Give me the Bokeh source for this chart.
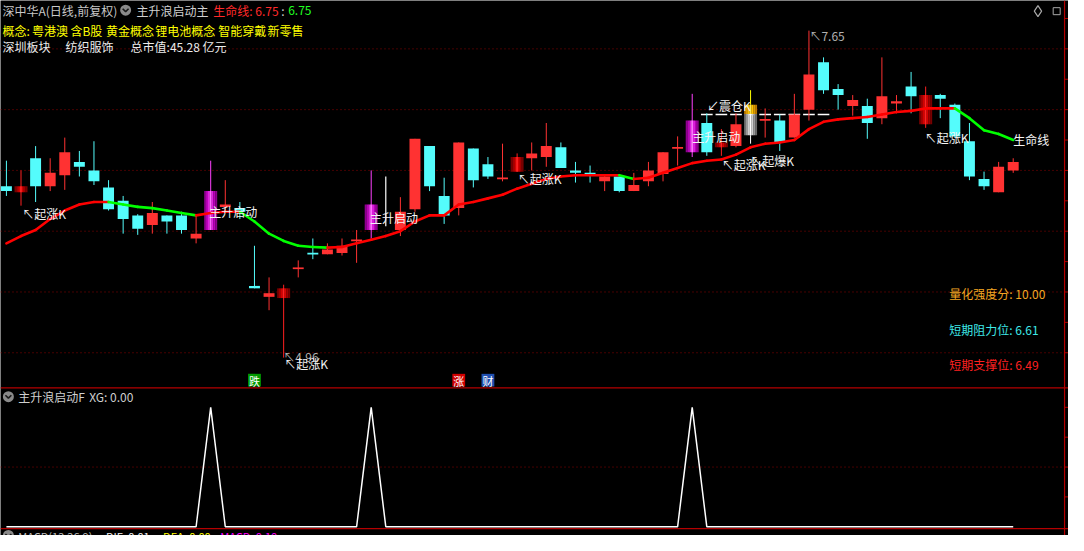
from bokeh.plotting import figure
from bokeh.models import Range1d
from bokeh.core.properties import value
from bokeh.embed import file_html
from bokeh.resources import INLINE

# ---------------- data ----------------
OPEN = [6.37, 6.32, 6.60, 6.37, 6.46, 6.57, 6.50, 6.36, 6.25, 6.13,
        6.05, 6.13, 6.13, 5.94, 6.01, 6.20, 6.19, 5.55, 5.46, 5.45,
        5.69, 5.82, 5.81, 5.82, 5.92, 6.01, 6.11, 6.01, 6.18, 6.70,
        6.29, 6.19, 6.68, 6.55, 6.43, 6.49, 6.60, 6.61, 6.69, 6.50,
        6.48, 6.41, 6.45, 6.33, 6.41, 6.47, 6.68, 6.65, 6.89, 6.69,
        6.70, 7.04, 6.91, 6.91, 6.77, 7.00, 7.39, 7.17, 7.03, 7.03,
        6.93, 7.05, 7.19, 6.88, 7.12, 7.04, 6.74, 6.43, 6.32, 6.50]
HIGH = [6.58, 6.50, 6.70, 6.60, 6.77, 6.66, 6.74, 6.42, 6.29, 6.14,
        6.24, 6.13, 6.16, 6.13, 6.58, 6.42, 6.24, 5.88, 5.62, 5.56,
        5.76, 5.94, 5.90, 5.94, 6.01, 6.50, 6.45, 6.28, 6.76, 6.70,
        6.44, 6.73, 6.68, 6.61, 6.72, 6.64, 6.73, 6.89, 6.73, 6.57,
        6.54, 6.46, 6.45, 6.48, 6.57, 6.65, 6.78, 7.13, 6.97, 6.84,
        6.97, 7.16, 7.01, 6.96, 7.13, 7.65, 7.43, 7.21, 7.12, 7.09,
        7.43, 7.12, 7.31, 7.19, 7.13, 7.05, 6.89, 6.49, 6.57, 6.60]
LOW = [6.29, 6.21, 6.24, 6.33, 6.34, 6.45, 6.38, 6.17, 5.98, 5.97,
       5.98, 5.98, 5.98, 5.90, 6.01, 6.16, 6.10, 5.53, 5.35, 4.96,
       5.62, 5.77, 5.81, 5.80, 5.74, 5.94, 6.04, 5.96, 6.16, 6.33,
       6.06, 6.13, 6.36, 6.43, 6.41, 6.49, 6.50, 6.53, 6.52, 6.40,
       6.40, 6.33, 6.32, 6.33, 6.37, 6.41, 6.54, 6.61, 6.62, 6.62,
       6.69, 6.72, 6.77, 6.66, 6.77, 6.91, 7.13, 7.00, 6.95, 6.76,
       6.88, 6.97, 6.97, 6.85, 6.93, 6.77, 6.42, 6.34, 6.32, 6.48]
CLOSE = [6.33, 6.37, 6.37, 6.48, 6.65, 6.53, 6.41, 6.18, 6.10, 6.02,
         6.15, 6.08, 6.01, 5.98, 6.33, 6.22, 6.16, 5.53, 5.49, 5.53,
         5.70, 5.81, 5.85, 5.88, 5.93, 6.22, 6.11, 6.16, 6.76, 6.37,
         6.13, 6.73, 6.42, 6.45, 6.44, 6.61, 6.64, 6.70, 6.52, 6.48,
         6.46, 6.45, 6.33, 6.38, 6.50, 6.65, 6.69, 6.91, 6.65, 6.73,
         6.88, 6.79, 6.92, 6.73, 6.96, 7.29, 7.16, 7.12, 7.08, 6.89,
         7.11, 7.07, 7.11, 7.12, 7.09, 6.78, 6.45, 6.37, 6.53, 6.57]
LIFE = [5.90, 5.96, 6.01, 6.10, 6.17, 6.22, 6.24, 6.24, 6.22, 6.20,
        6.19, 6.17, 6.15, 6.13, 6.15, 6.16, 6.16, 6.08, 5.98, 5.92,
        5.88, 5.87, 5.865, 5.87, 5.90, 5.93, 5.96, 6.00, 6.08, 6.13,
        6.13, 6.22, 6.24, 6.27, 6.30, 6.35, 6.39, 6.43, 6.45, 6.46,
        6.46, 6.46, 6.46, 6.43, 6.44, 6.48, 6.52, 6.56, 6.58, 6.59,
        6.63, 6.69, 6.72, 6.73, 6.75, 6.84, 6.90, 6.92, 6.93, 6.94,
        6.96, 6.98, 6.99, 7.01, 7.01, 7.01, 6.93, 6.83, 6.80, 6.75]
XG = [0, 0, 0, 0, 0, 0, 0, 0, 0, 0,
      0, 0, 0, 0, 1, 0, 0, 0, 0, 0,
      0, 0, 0, 0, 0, 1, 0, 0, 0, 0,
      0, 0, 0, 0, 0, 0, 0, 0, 0, 0,
      0, 0, 0, 0, 0, 0, 0, 1, 0, 0,
      0, 0, 0, 0, 0, 0, 0, 0, 0, 0,
      0, 0, 0, 0, 0, 0, 0, 0, 0, 0]
QIZHANG_K = [1, 19, 35, 49, 63]      # 起涨K
ZHUSHENG_K = [14, 25, 47]            # 主升启动
ZHENCANG_K = [51]                    # 震仓K
FLAT_K = [26]
ZC_LEVEL = 6.96
ZC_FROM, ZC_TO = 48, 56
GRID_PRICES = [5.0, 5.5, 6.0, 6.5, 7.0, 7.5]
TICK_PRICES = [5.0, 5.25, 5.5, 5.75, 6.0, 6.25, 6.5, 6.75, 7.0, 7.25, 7.5, 7.75]
EVENTS = [(17, "跌", "#009a00"), (31, "涨", "#d00000"), (33, "财", "#1f4fb0")]
LIFE_NOW = 6.75
SCORE = 10.00
RESIST = 6.61
SUPPORT = 6.49
MKT_CAP = 45.28
CONCEPTS = ["粤港澳", "含B股", "黄金概念", "锂电池概念", "智能穿戴", "新零售"]

# ---------------- layout helpers (reference pixel -> data) ----------------
DX, X0 = 14.81, 6.0
PPU, YREF, PREF = 125.2, 175.0, 6.5
def xr(px): return (px - X0) / DX
def yr(py): return PREF + (YREF - py) / PPU
def yi(py): return (542.0 - py) / 123.0

FONT = "Noto Sans CJK SC"
UP, DOWN = "#ff3232", "#54fcfc"

p = figure(width=1068, height=535, x_range=Range1d(xr(0), xr(1084)),
           y_range=Range1d(yr(551), yr(0)), output_backend="svg",
           toolbar_location=None, x_axis_type=None, y_axis_type=None,
           min_border=0, min_border_left=0, min_border_right=0,
           min_border_top=0, min_border_bottom=0,
           background_fill_color="black", border_fill_color="black",
           outline_line_color=None)
p.extra_y_ranges = {"ind": Range1d(yi(551), yi(0))}

def txt(px, py, s, color, size=12, align="left"):
    p.text(x=[xr(px)], y=[yr(py)], text=[s], text_color=color,
           text_font=value(FONT), text_font_size=f"{size}px",
           text_baseline="middle", text_align=align)

# dotted grid
for g in GRID_PRICES:
    p.segment(x0=[xr(0)], y0=[g], x1=[xr(1080)], y1=[g], line_color="#8c0000",
              line_dash="1 3", line_width=1)
p.segment(x0=[xr(0)], y0=[0.5], x1=[xr(1080)], y1=[0.5], line_color="#8c0000",
          line_dash="1 3", line_width=1, y_range_name="ind")

# frames
for yy in (399, 544):
    p.segment(x0=[xr(0)], y0=[yr(yy)], x1=[xr(1084)], y1=[yr(yy)],
              line_color="#b40000", line_width=1.2)
p.segment(x0=[xr(1080)], y0=[yr(0)], x1=[xr(1080)], y1=[yr(551)],
          line_color="#b40000", line_width=1.2)
p.segment(x0=[xr(1080)] * len(TICK_PRICES), y0=TICK_PRICES,
          x1=[xr(1084)] * len(TICK_PRICES), y1=TICK_PRICES, line_color="#b40000")
for t in (0.25, 0.5, 0.75, 1.0):
    p.segment(x0=[xr(1080)], y0=[t], x1=[xr(1084)], y1=[t], line_color="#b40000",
              y_range_name="ind")

# dashed shake-out level
zx = list(range(ZC_FROM, ZC_TO + 1))
p.segment(x0=[i - 0.4 for i in zx], y0=[ZC_LEVEL] * len(zx),
          x1=[i + 0.4 for i in zx], y1=[ZC_LEVEL] * len(zx),
          line_color="white", line_width=1.5)

# ---------------- candles ----------------
N = len(OPEN)
MINH = 0.014
def body(i):
    lo, hi = min(OPEN[i], CLOSE[i]), max(OPEN[i], CLOSE[i])
    if hi - lo < MINH:
        m = (hi + lo) / 2
        lo, hi = m - MINH / 2, m + MINH / 2
    return lo, hi

special = set(QIZHANG_K + ZHUSHENG_K + ZHENCANG_K + FLAT_K)
for kind, col in (("up", UP), ("down", DOWN)):
    ids = [i for i in range(N) if i not in special and
           ((CLOSE[i] >= OPEN[i]) == (kind == "up"))]
    p.segment(x0=ids, y0=[LOW[i] for i in ids], x1=ids, y1=[HIGH[i] for i in ids],
              line_color=col, line_width=1)
    bb = [body(i) for i in ids]
    p.vbar(x=ids, width=0.75, bottom=[b[0] for b in bb], top=[b[1] for b in bb],
           fill_color=col, line_color=None)

def grad(i, lo, hi, colors, width=0.88):
    n = len(colors)
    w = width / n
    xs = [i - width / 2 + w * (k + 0.5) for k in range(n)]
    p.vbar(x=xs, width=w * 1.08, bottom=[lo] * n, top=[hi] * n,
           fill_color=colors, line_color=None)

MAG = ["#8e008e", "#b800b8", "#e020e0", "#ff70ff", "#e020e0", "#b800b8", "#8e008e"]
DRED = ["#780000", "#a00000", "#d40000", "#ff2020", "#d40000", "#a00000", "#780000"]
GOLD = ["#b87800", "#dc9c00", "#ffc400", "#ffe850", "#ffc400", "#dc9c00", "#b87800"]
SILV = ["#6a6a6a", "#9a9a9a", "#cfcfcf", "#ffffff", "#cfcfcf", "#9a9a9a", "#6a6a6a"]

for i in ZHUSHENG_K:
    p.segment(x0=[i], y0=[LOW[i]], x1=[i], y1=[HIGH[i]], line_color="#ff40ff")
    lo, hi = body(i)
    grad(i, lo, hi, MAG)
for i in QIZHANG_K:
    p.segment(x0=[i], y0=[LOW[i]], x1=[i], y1=[HIGH[i]], line_color="#ff2020")
    lo, hi = body(i)
    grad(i, lo, hi, DRED)
for i in ZHENCANG_K:
    lo, hi = body(i)
    p.segment(x0=[i], y0=[hi], x1=[i], y1=[HIGH[i]], line_color="#ffff00")
    p.segment(x0=[i], y0=[LOW[i]], x1=[i], y1=[lo], line_color="white")
    split = hi - 0.3 * (hi - lo)
    grad(i, split, hi, GOLD)
    grad(i, lo, split, SILV)
for i in FLAT_K:
    p.segment(x0=[i], y0=[LOW[i]], x1=[i], y1=[HIGH[i]], line_color="white",
              line_width=1.2)

# ---------------- life line ----------------
sx0, sy0, sx1, sy1, sc = [], [], [], [], []
for i in range(N - 1):
    sx0.append(i); sy0.append(LIFE[i]); sx1.append(i + 1); sy1.append(LIFE[i + 1])
    sc.append("#00ff00" if LIFE[i + 1] < LIFE[i] else "#ff0000")
p.segment(x0=sx0, y0=sy0, x1=sx1, y1=sy1, line_color=sc, line_width=2.6,
          line_cap="round")

# ---------------- indicator panel ----------------
p.line(x=list(range(N)), y=XG, line_color="white", line_width=1.5,
       y_range_name="ind")

# ---------------- texts ----------------
def icon(px, py):
    p.scatter(x=[xr(px)], y=[yr(py)], size=11, marker="circle",
              fill_color="#8a8a8a", line_color=None)
    p.line(x=[xr(px - 3), xr(px), xr(px + 3)], y=[yr(py - 1.5), yr(py + 1.5), yr(py - 1.5)],
           line_color="#1a1a1a", line_width=1.6)

txt(2, 10, "深中华A(日线,前复权)", "#c8c8c8")
icon(127, 10)
txt(138, 10, "主升浪启动主", "#d0d0d0")
txt(216, 10, f"生命线: {LIFE_NOW:.2f}", "#ff2a2a")
txt(285, 10, ":", "#d0d0d0")
txt(292, 10, f"{LIFE_NOW:.2f}", "#20ff20")

txt(2, 31, "概念:", "#ffff00")
for s, px in zip(CONCEPTS, [32, 71, 107, 157, 221, 271]):
    txt(px, 31, s, "#ffff00")

txt(2, 47, "深圳板块", "#ececec")
txt(66, 47, "纺织服饰", "#ececec")
txt(132, 47, f"总市值:{MKT_CAP:.2f} 亿元", "#ececec")

# top-right icons
p.scatter(x=[xr(1053)], y=[yr(11)], size=11, marker="diamond", fill_color=None,
          line_color="#a8a8a8", line_width=1.2)
p.scatter(x=[xr(1072)], y=[yr(11)], size=7, marker="square", fill_color=None,
          line_color="#a8a8a8", line_width=1)

# signal annotations
W = "#f4f4f4"
txt(22, 219, "↖起涨K", W)
txt(212, 217, "主升启动", W)
txt(287, 367, f"↖{LOW[19]:.2f}", "#b0b0b0")
txt(288, 374, "↖起涨K", W)
txt(375, 223, "主升启动", W)
txt(525, 183, "↖起涨K", W)
txt(702, 140, "主升启动", W)
txt(717, 108, "↙震仓K", W)
txt(732, 169, "↖起涨K", W)
txt(761, 165, "↖起爆K", W)
txt(938, 141, "↖起涨K", W)
txt(1028, 143, "生命线", W)
txt(821, 36, f"↖{HIGH[55]:.2f}", "#b0b0b0")

# right-side statistics
txt(963, 302, f"量化强度分: {SCORE:.2f}", "#f5a623")
txt(963, 339, f"短期阻力位: {RESIST:.2f}", "#3ee8e8")
txt(963, 375, f"短期支撑位: {SUPPORT:.2f}", "#ff2020")

# event boxes
for i, s, col in EVENTS:
    p.rect(x=[i], y=[yr(391)], width=13 / DX, height=13 / PPU, fill_color=col,
           line_color=None)
    p.text(x=[i], y=[yr(391.5)], text=[s], text_color="white", text_font=value(FONT),
           text_font_size="11px", text_align="center", text_baseline="middle")

# indicator panel title
icon(8, 408)
txt(18, 408, "主升浪启动F", "#cfcfcf")
txt(90, 408, "XG: 0.00", "#cfcfcf")

# bottom MACD strip (partly below the window, as in the original)
icon(8, 551)
txt(18, 551, "MACD(12,26,9)", "#bdbdbd", size=11)
txt(107, 551, "DIF: 0.01", "#f0f0f0", size=11)
txt(165, 551, "DEA: 0.00", "#ffff00", size=11)
txt(223, 551, "MACD: 0.10", "#ff00ff", size=11)

open("out.html", "w").write(file_html(p, INLINE))
